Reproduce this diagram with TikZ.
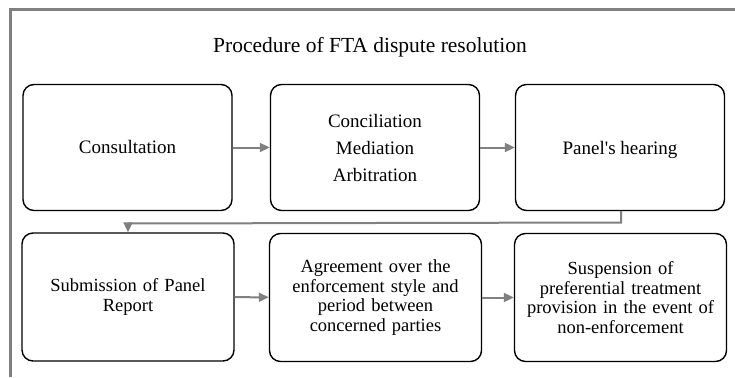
\documentclass[tikz,border=0pt]{standalone}
\usepackage{fontspec}
\setmainfont{Liberation Serif}
\usetikzlibrary{arrows.meta}
\begin{document}
\begin{tikzpicture}[x=1pt,y=-1pt,
  stepbox/.style={draw=black,line width=1.4pt,rounded corners=11pt,
    minimum width=209pt,minimum height=126pt,align=center,inner sep=2pt},
  toprow/.style={font=\fontsize{19}{27}\selectfont},
  botrow/.style={font=\fontsize{18.5}{19.5}\selectfont,text width=200pt},
  flow/.style={draw=gray,line width=2pt,-{Triangle[length=10pt,width=9pt]}}]
\useasboundingbox (0,0) rectangle (735,377);
\draw[gray,line width=3pt] (10,377) -- (10,9.5) -- (735,9.5);
\node[font=\fontsize{21.5}{24}\selectfont] (title) at (370,47) {Procedure of FTA dispute resolution};
\node[stepbox,toprow] (b1) at (127.5,147.5) {Consultation};
\node[stepbox,toprow] (b2) at (375,147.5) {Conciliation\\Mediation\\Arbitration};
\node[stepbox,toprow,text depth=0pt] (b3) at (620,147.5) {Panel\textquotesingle s hearing};
\node[stepbox,botrow,minimum width=212pt,minimum height=128pt] (b4) at (128,297) {Submission of Panel\\Report};
\node[stepbox,botrow,minimum width=212pt,minimum height=128pt] (b5) at (375.5,297.5) {Agreement over the\\enforcement style and\\period between\\concerned parties};
\node[stepbox,botrow,minimum width=212pt,minimum height=128pt] (b6) at (620.5,297.5) {Suspension of\\preferential treatment\\provision in the event of\\non-enforcement};
\coordinate (c1) at (621,222.5);
\coordinate (c2) at (128,223.5);
\draw[flow] (b1) -- (b2);
\draw[flow] (b2) -- (b3);
\draw[flow] (b3.south -| c1) -- (c1) -- (c2) -- (b4.north -| c2);
\draw[flow] (b4) -- (b5);
\draw[flow] (b5) -- (b6);
\end{tikzpicture}
\end{document}
